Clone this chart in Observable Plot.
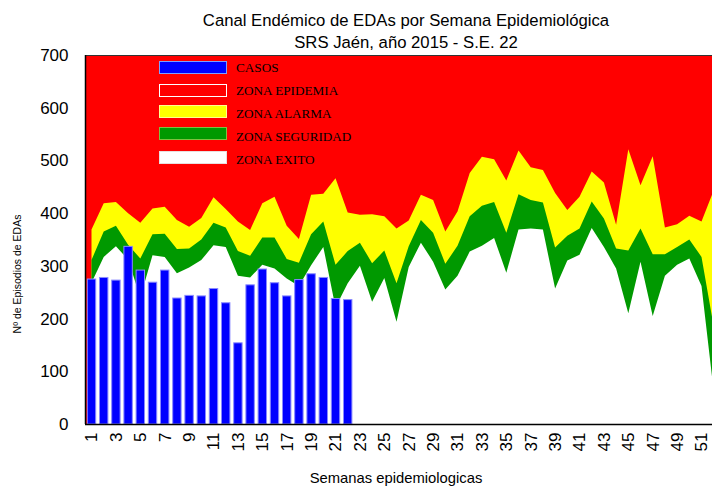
<!DOCTYPE html>
<html><head><meta charset="utf-8">
<script src="https://cdn.jsdelivr.net/npm/d3@7"></script>
<script src="https://cdn.jsdelivr.net/npm/@observablehq/plot@0.6"></script>
<style>
html,body{margin:0;padding:0;background:#fff;overflow:hidden;}
#chart{position:relative;width:712px;height:486px;}
.sw{position:absolute;width:66px;height:11px;box-sizing:content-box;}
.lt{position:absolute;font-family:"Liberation Serif","Times New Roman",serif;font-size:13.2px;color:#000;line-height:13px;white-space:nowrap;}
</style></head><body><div id="chart"></div>
<script>
const semanas = [1,2,3,4,5,6,7,8,9,10,11,12,13,14,15,16,17,18,19,20,21,22,23,24,25,26,27,28,29,30,31,32,33,34,35,36,37,38,39,40,41,42,43,44,45,46,47,48,49,50,51,52];
const casos = [275,278,273,337,292,269,292,239,244,243,257,230,154,264,294,268,243,274,285,278,238,236];
const exito = [268,317,337,312,240,320,317,286,297,311,339,336,281,278,302,295,276,262,301,336,221,267,300,232,277,194,298,344,308,255,281,327,338,353,287,369,371,369,257,310,321,372,336,295,210,308,205,281,302,314,262,62];
const seguridad = [311,365,376,340,314,360,361,332,333,350,382,373,328,319,354,354,313,306,360,384,302,328,344,305,329,267,337,387,363,304,338,394,414,421,363,436,425,420,335,357,371,422,390,333,329,371,322,322,336,350,317,185];
const alarma = [369,419,421,400,382,409,412,387,374,391,430,408,384,368,419,431,376,351,435,437,466,401,397,398,394,371,386,435,425,365,403,476,507,502,462,519,487,482,438,406,431,479,458,378,521,453,508,373,379,395,384,443];
const xTicks = [1,3,5,7,9,11,13,15,17,19,21,23,25,27,29,31,33,35,37,39,41,43,45,47,49,51];
const yTicks = [0,100,200,300,400,500,600,700];
const legendLabels = ["CASOS","ZONA EPIDEMIA","ZONA ALARMA","ZONA SEGURIDAD","ZONA EXITO"];
const legendFill = ["#0000ff","#ff0000","#ffff00","#009900","#ffffff"];
const legendStroke = ["#7f9fff","#ffffff","#ffff90","#7fc040","#e8dede"];
const titulo = "Canal Endémico de EDAs por Semana Epidemiológica";
const subtitulo = "SRS Jaén, año 2015 - S.E. 22";
const xLabel = "Semanas epidemiologicas";
const yLabel = "Nº de Episodios de EDAs";
const xDomain = [0.467, 51.86];
const yDomain = [0, 700];

const zonas = semanas.map((s, i) => ({semana: s, exito: exito[i], seguridad: seguridad[i], alarma: alarma[i]}));
const barras = casos.map((c, i) => ({semana: semanas[i], casos: c}));

const plot = Plot.plot({
  width: 712,
  height: 486,
  marginLeft: 85,
  marginRight: 0,
  marginTop: 55,
  marginBottom: 62,
  style: {fontFamily: "'Liberation Sans', Arial, sans-serif", fontSize: "17px", background: "#fff", color: "#000", overflow: "hidden"},
  x: {type: "linear", domain: xDomain, ticks: xTicks, tickFormat: d => String(d), tickRotate: -90, tickSize: 0, tickPadding: 8, label: null},
  y: {domain: yDomain, ticks: yTicks, tickSize: 0, tickPadding: 17, label: null},
  marks: [
    Plot.frame({fill: "#ff0000", stroke: null}),
    Plot.areaY(zonas, {x: "semana", y: "alarma", fill: "#ffff00", clip: true}),
    Plot.areaY(zonas, {x: "semana", y: "seguridad", fill: "#009900", clip: true}),
    Plot.areaY(zonas, {x: "semana", y: "exito", fill: "#ffffff", clip: true}),
    Plot.rectY(barras, {x1: d => d.semana - 0.345, x2: d => d.semana + 0.345, y: "casos", fill: "#0000ff", stroke: "#8a8aff", strokeWidth: 1}),
    Plot.ruleY([yDomain[0]], {stroke: "#000", strokeWidth: 1.5}),
    Plot.ruleY([yDomain[1]], {stroke: "#333", strokeWidth: 1}),
    Plot.ruleX([xDomain[0]], {stroke: "#000", strokeWidth: 1.5})
  ]
});

const chart = document.getElementById("chart");
chart.appendChild(plot);
const svg = d3.select(plot);
const T = (x, y, txt, size, extra) => {
  const t = svg.append("text").attr("x", x).attr("y", y).attr("text-anchor", "middle")
    .attr("font-family", "'Liberation Sans', Arial, sans-serif").attr("font-size", size).attr("fill", "#000").text(txt);
  if (extra) extra(t);
  return t;
};
T(406, 26, titulo, 16.7);
T(406, 48, subtitulo, 16.7);
T(396, 483, xLabel, 14.8);
T(0, 0, yLabel, 10.5, t => t.attr("transform", "translate(21,274) rotate(-90)"));

const swTops = [61, 84, 105, 127, 151];
const txtTops = [61, 84, 107, 130, 153];
legendLabels.forEach((lab, i) => {
  const sw = document.createElement("div");
  sw.className = "sw";
  sw.style.left = "159px";
  sw.style.top = swTops[i] + "px";
  sw.style.background = legendFill[i];
  sw.style.border = "1px solid " + legendStroke[i];
  chart.appendChild(sw);
  const lt = document.createElement("div");
  lt.className = "lt";
  lt.style.left = "236px";
  lt.style.top = txtTops[i] + "px";
  lt.textContent = lab;
  chart.appendChild(lt);
});
</script></body></html>
